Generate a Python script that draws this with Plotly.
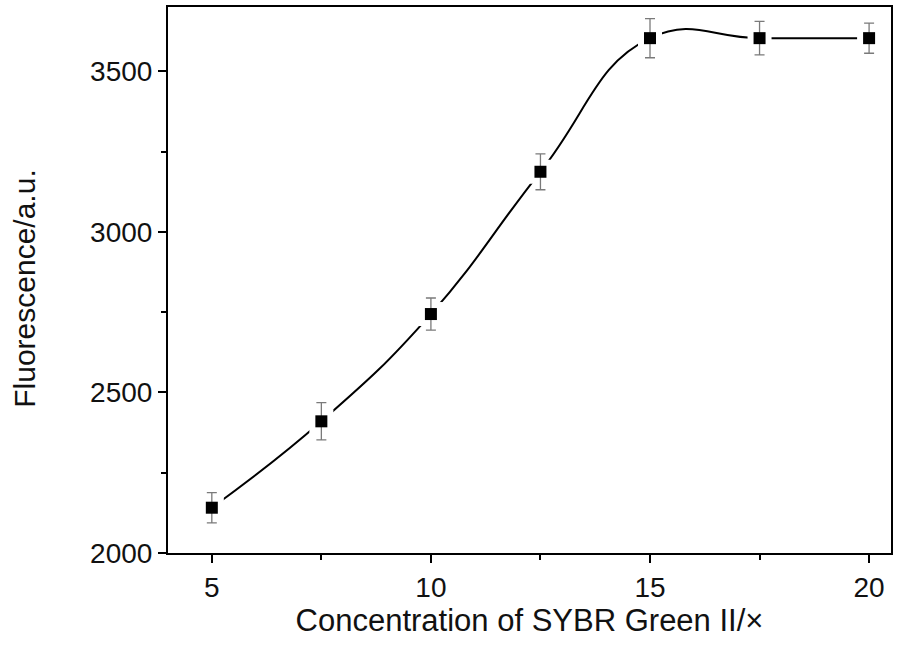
import plotly.graph_objects as go

conc = [5, 7.5, 10, 12.5, 15, 17.5, 20]
fluor = [2141, 2410, 2744, 3187, 3603, 3603, 3603]
err = [47, 58, 50, 56, 61, 52, 47]

x_ticks = [5, 10, 15, 20]
y_ticks = [2000, 2500, 3000, 3500]

FONT = "Liberation Sans, Arial, sans-serif"

fig = go.Figure()
fig.add_trace(go.Scatter(x=conc, y=fluor, mode="lines",
                         line=dict(shape="spline", smoothing=1.3, color="black", width=2),
                         hoverinfo="skip", showlegend=False))
fig.add_trace(go.Scatter(x=conc, y=fluor, mode="markers",
                         marker=dict(symbol="square", size=24, color="white", line=dict(width=0)),
                         hoverinfo="skip", showlegend=False))
fig.add_trace(go.Scatter(x=conc, y=fluor, mode="markers",
                         marker=dict(symbol="square", size=12, color="black", line=dict(width=0)),
                         error_y=dict(type="data", array=err, visible=True, color="#7a7a7a",
                                      thickness=1.3, width=5),
                         showlegend=False))

fig.update_layout(
    width=909, height=648,
    margin=dict(l=168, r=18, t=5, b=95),
    paper_bgcolor="white", plot_bgcolor="white",
    font=dict(family=FONT, color="#111111", size=28),
    annotations=[dict(text="Fluorescence/a.u.", textangle=-90, showarrow=False,
                      xref="paper", yref="paper", x=0, y=0.484, xshift=-143,
                      xanchor="center", yanchor="middle",
                      font=dict(size=30, family=FONT, color="#111111"))],
)
fig.update_xaxes(range=[4, 20.5], tickvals=x_ticks, ticktext=[str(v) for v in x_ticks],
                 showgrid=False, zeroline=False,
                 showline=True, linecolor="black", linewidth=2, mirror=True,
                 ticks="outside", ticklen=8, tickwidth=2, tickcolor="black",
                 minor=dict(dtick=2.5, tick0=0, ticks="outside", ticklen=5, tickwidth=2, tickcolor="black"),
                 tickfont=dict(size=28),
                 title=dict(text="Concentration of SYBR Green II/×", font=dict(size=31), standoff=0))
fig.update_yaxes(range=[2000, 3700], tickvals=y_ticks, ticktext=[str(v) for v in y_ticks],
                 showgrid=False, zeroline=False,
                 showline=True, linecolor="black", linewidth=2, mirror=True,
                 ticks="outside", ticklen=8, tickwidth=2, tickcolor="black",
                 minor=dict(dtick=250, tick0=0, ticks="outside", ticklen=5, tickwidth=2, tickcolor="black"),
                 tickfont=dict(size=28))

fig.write_html("out.html")
